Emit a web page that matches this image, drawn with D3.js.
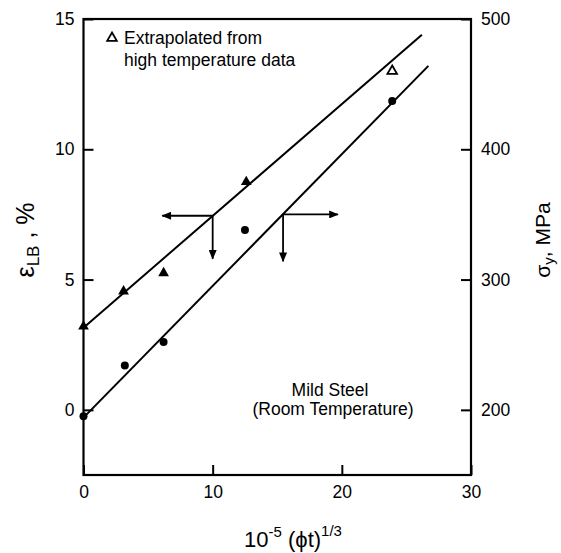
<!DOCTYPE html>
<html>
<head>
<meta charset="utf-8">
<script src="https://d3js.org/d3.v7.min.js"></script>
<style>
  body { margin: 0; background: #fff; }
  svg text { font-family: "Liberation Sans", Arial, sans-serif; fill: #000; }
</style>
</head>
<body>
<script>
// data (x = 10^-5 (phi t)^1/3, y = elongation %)
var triFilled = [[0, 3.2], [3.1, 4.55], [6.2, 5.25], [12.6, 8.75]];
var triOpen = [[23.9, 13.0]];
var circles = [[0, -0.25], [3.2, 1.7], [6.2, 2.6], [12.5, 6.9], [23.9, 11.85]];
// fitted lines: [x0, y0, x1, y1]
var fitLines = [[0, 3.15, 26.2, 14.4], [0, -0.3, 26.7, 13.2]];
// arrows: start point on line, horizontal tip x, vertical tip y
var arrows = [[10, 7.45, 6.1, 5.8], [15.45, 7.5, 19.7, 5.7]];
var xTicks = [0, 10, 20, 30];
var yLeftTicks = [0, 5, 10, 15];
var yRightTicks = [200, 300, 400, 500];

var W = 561, H = 553;
var svg = d3.select("body").append("svg")
  .attr("width", W).attr("height", H);

var x = d3.scaleLinear().domain([0, 30]).range([83.5, 471]);
var y = d3.scaleLinear().domain([-2.5, 15]).range([475, 19]);
var yR = d3.scaleLinear().domain([150, 500]).range([475, 19]);

svg.append("defs").append("marker")
  .attr("id", "head")
  .attr("viewBox", "0 0 12 10")
  .attr("refX", 11).attr("refY", 5)
  .attr("markerWidth", 12).attr("markerHeight", 8)
  .attr("markerUnits", "userSpaceOnUse")
  .attr("orient", "auto")
  .append("path").attr("d", "M0,0L12,5L0,10z").attr("fill", "#000");

// axes
var fs = "17.5px";
var gx = svg.append("g").attr("transform", "translate(0," + y.range()[0] + ")")
  .call(d3.axisBottom(x).tickValues(xTicks).tickSizeInner(-10).tickSizeOuter(0).tickPadding(11));
var gl = svg.append("g").attr("transform", "translate(" + x.range()[0] + ",0)")
  .call(d3.axisLeft(y).tickValues(yLeftTicks).tickSizeInner(-10).tickSizeOuter(0).tickPadding(9));
var gr = svg.append("g").attr("transform", "translate(" + x.range()[1] + ",0)")
  .call(d3.axisRight(yR).tickValues(yRightTicks).tickSizeInner(-10).tickSizeOuter(0).tickPadding(10));
[gx, gl, gr].forEach(function(g) {
  g.select(".domain").remove();
  g.selectAll("line").attr("stroke", "#000").attr("stroke-width", 2);
  g.selectAll("text").style("font-size", fs).attr("font-family", null);
});

// frame
svg.append("rect")
  .attr("x", x.range()[0]).attr("y", y.range()[1])
  .attr("width", x.range()[1] - x.range()[0])
  .attr("height", y.range()[0] - y.range()[1])
  .attr("fill", "none").attr("stroke", "#000").attr("stroke-width", 2.2);

// fitted lines
svg.selectAll(".fit").data(fitLines).enter().append("line")
  .attr("x1", function(d) { return x(d[0]); })
  .attr("y1", function(d) { return y(d[1]); })
  .attr("x2", function(d) { return x(d[2]); })
  .attr("y2", function(d) { return y(d[3]); })
  .attr("stroke", "#000").attr("stroke-width", 2);

// arrows
arrows.forEach(function(a) {
  svg.append("line")
    .attr("x1", x(a[0])).attr("y1", y(a[1]))
    .attr("x2", x(a[2])).attr("y2", y(a[1]))
    .attr("stroke", "#000").attr("stroke-width", 1.8)
    .attr("marker-end", "url(#head)");
  svg.append("line")
    .attr("x1", x(a[0])).attr("y1", y(a[1]))
    .attr("x2", x(a[0])).attr("y2", y(a[3]))
    .attr("stroke", "#000").attr("stroke-width", 1.8)
    .attr("marker-end", "url(#head)");
});

// points
var tri = d3.symbol().type(d3.symbolTriangle).size(50);
svg.selectAll(".tf").data(triFilled).enter().append("path")
  .attr("d", tri)
  .attr("transform", function(d) { return "translate(" + x(d[0]) + "," + y(d[1]) + ")"; })
  .attr("fill", "#000");
svg.selectAll(".to").data(triOpen).enter().append("path")
  .attr("d", d3.symbol().type(d3.symbolTriangle).size(40))
  .attr("transform", function(d) { return "translate(" + x(d[0]) + "," + y(d[1]) + ")"; })
  .attr("fill", "#fff").attr("stroke", "#000").attr("stroke-width", 1.8);
svg.selectAll(".ci").data(circles).enter().append("circle")
  .attr("cx", function(d) { return x(d[0]); })
  .attr("cy", function(d) { return y(d[1]); })
  .attr("r", 4).attr("fill", "#000");

// legend
svg.append("path")
  .attr("d", d3.symbol().type(d3.symbolTriangle).size(40))
  .attr("transform", "translate(112,38)")
  .attr("fill", "#fff").attr("stroke", "#000").attr("stroke-width", 1.8);
svg.append("text").attr("x", 124).attr("y", 44).style("font-size", fs).text("Extrapolated from");
svg.append("text").attr("x", 124).attr("y", 66).style("font-size", fs).text("high temperature data");

// annotation
svg.append("text").attr("x", 330).attr("y", 396).attr("text-anchor", "middle")
  .style("font-size", fs).text("Mild Steel");
svg.append("text").attr("x", 333).attr("y", 415).attr("text-anchor", "middle")
  .style("font-size", fs).text("(Room Temperature)");

// x title
var xt = svg.append("text").attr("x", 293).attr("y", 547).attr("text-anchor", "middle")
  .style("font-size", "22px");
xt.append("tspan").text("10");
xt.append("tspan").attr("dy", -10).style("font-size", "15px").text("-5");
xt.append("tspan").attr("dy", 10).text(" (\u03d5t)");
xt.append("tspan").attr("dy", -11).style("font-size", "15px").text("1/3");

// left title
var lt = svg.append("text")
  .attr("transform", "translate(34,240) rotate(-90)")
  .attr("text-anchor", "middle").style("font-size", "25px");
lt.append("tspan").text("\u03b5");
lt.append("tspan").attr("dy", 5).style("font-size", "17px").text("LB");
lt.append("tspan").attr("dy", -5).text(" , %");

// right title
var rt = svg.append("text")
  .attr("transform", "translate(550,240) rotate(-90)")
  .attr("text-anchor", "middle").style("font-size", "21px");
rt.append("tspan").text("\u03c3");
rt.append("tspan").attr("dy", 4).style("font-size", "15px").text("y");
rt.append("tspan").attr("dy", -4).text(", MPa");
</script>
</body>
</html>
